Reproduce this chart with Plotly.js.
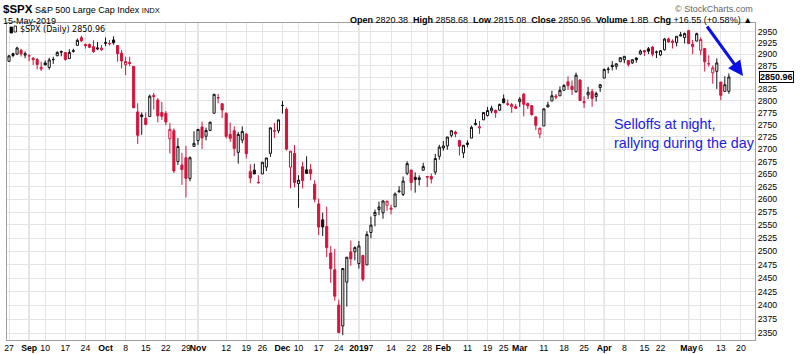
<!DOCTYPE html>
<html><head><meta charset="utf-8">
<script src="https://cdn.plot.ly/plotly-3.0.1.min.js"></script>
<style>body{margin:0;background:#fff}#chart{width:800px;height:354px}</style>
</head><body><div id="chart"></div>
<script>
const dates = [
"2018-08-27","2018-08-28","2018-08-29","2018-08-30","2018-08-31",
"2018-09-04","2018-09-05","2018-09-06","2018-09-07","2018-09-10","2018-09-11","2018-09-12","2018-09-13","2018-09-14","2018-09-17","2018-09-18","2018-09-19","2018-09-20","2018-09-21","2018-09-24","2018-09-25","2018-09-26","2018-09-27","2018-09-28",
"2018-10-01","2018-10-02","2018-10-03","2018-10-04","2018-10-05","2018-10-08","2018-10-09","2018-10-10","2018-10-11","2018-10-12","2018-10-15","2018-10-16","2018-10-17","2018-10-18","2018-10-19","2018-10-22","2018-10-23","2018-10-24","2018-10-25","2018-10-26","2018-10-29","2018-10-30","2018-10-31",
"2018-11-01","2018-11-02","2018-11-05","2018-11-06","2018-11-07","2018-11-08","2018-11-09","2018-11-12","2018-11-13","2018-11-14","2018-11-15","2018-11-16","2018-11-19","2018-11-20","2018-11-21","2018-11-23","2018-11-26","2018-11-27","2018-11-28","2018-11-29","2018-11-30",
"2018-12-03","2018-12-04","2018-12-06","2018-12-07","2018-12-10","2018-12-11","2018-12-12","2018-12-13","2018-12-14","2018-12-17","2018-12-18","2018-12-19","2018-12-20","2018-12-21","2018-12-24","2018-12-26","2018-12-27","2018-12-28","2018-12-31",
"2019-01-02","2019-01-03","2019-01-04","2019-01-07","2019-01-08","2019-01-09","2019-01-10","2019-01-11","2019-01-14","2019-01-15","2019-01-16","2019-01-17","2019-01-18","2019-01-22","2019-01-23","2019-01-24","2019-01-25","2019-01-28","2019-01-29","2019-01-30","2019-01-31",
"2019-02-01","2019-02-04","2019-02-05","2019-02-06","2019-02-07","2019-02-08","2019-02-11","2019-02-12","2019-02-13","2019-02-14","2019-02-15","2019-02-19","2019-02-20","2019-02-21","2019-02-22","2019-02-25","2019-02-26","2019-02-27","2019-02-28",
"2019-03-01","2019-03-04","2019-03-05","2019-03-06","2019-03-07","2019-03-08","2019-03-11","2019-03-12","2019-03-13","2019-03-14","2019-03-15","2019-03-18","2019-03-19","2019-03-20","2019-03-21","2019-03-22","2019-03-25","2019-03-26","2019-03-27","2019-03-28","2019-03-29",
"2019-04-01","2019-04-02","2019-04-03","2019-04-04","2019-04-05","2019-04-08","2019-04-09","2019-04-10","2019-04-11","2019-04-12","2019-04-15","2019-04-16","2019-04-17","2019-04-18","2019-04-22","2019-04-23","2019-04-24","2019-04-25","2019-04-26","2019-04-29","2019-04-30",
"2019-05-01","2019-05-02","2019-05-03","2019-05-06","2019-05-07","2019-05-08","2019-05-09","2019-05-10","2019-05-13","2019-05-14","2019-05-15"
];
const futureDates = ["2019-05-16","2019-05-17","2019-05-20"];

const open = [
2884.69,2901.45,2900.62,2908.94,2898.37,
2896.96,2891.59,2888.64,2868.26,2881.39,2871.57,2888.29,2896.85,2906.38,2903.83,2890.74,2906.60,2919.73,2936.76,2921.83,2921.75,2916.98,2911.65,2910.03,
2926.29,2923.80,2931.69,2919.35,2902.54,2877.53,2882.51,2873.90,2776.87,2770.54,2763.83,2767.05,2811.67,2802.00,2775.66,2773.94,2721.03,2737.87,2674.88,2667.86,2682.65,2640.68,2705.60,
2717.58,2745.45,2726.37,2738.40,2774.13,2806.38,2794.10,2773.93,2730.05,2737.90,2693.52,2718.54,2730.74,2654.60,2657.74,2633.36,2649.97,2663.75,2691.45,2736.97,2737.76,
2790.50,2782.43,2663.51,2691.26,2630.86,2664.44,2658.23,2658.70,2629.68,2590.75,2559.90,2547.05,2496.77,2465.38,2400.56,2363.12,2442.50,2498.77,2498.94,
2476.96,2491.92,2474.33,2535.61,2568.11,2580.00,2573.51,2588.11,2580.31,2585.10,2614.75,2609.28,2651.27,2657.88,2643.48,2638.84,2657.44,2644.97,2644.89,2653.62,2685.49,
2702.32,2706.49,2728.34,2735.05,2717.53,2692.36,2712.40,2722.61,2750.30,2743.50,2760.24,2769.28,2779.05,2780.24,2780.67,2804.35,2792.36,2787.50,2788.11,
2798.22,2814.37,2794.41,2790.27,2766.53,2730.79,2747.61,2787.34,2799.78,2810.38,2810.79,2822.61,2840.76,2831.34,2819.72,2844.52,2796.01,2812.66,2819.72,2809.40,2828.27,
2848.63,2868.24,2876.09,2873.99,2884.16,2888.46,2886.58,2881.37,2891.92,2900.86,2908.32,2912.26,2916.04,2904.81,2898.78,2909.99,2934.00,2928.99,2925.81,2940.58,2937.14,
2952.33,2922.16,2929.21,2908.89,2913.03,2879.61,2859.84,2863.10,2840.19,2820.12,2820.38
];
const high = [
2898.25,2903.77,2916.50,2912.46,2906.32,
2900.18,2894.21,2892.05,2883.81,2886.93,2892.52,2894.65,2906.76,2908.30,2904.65,2911.17,2912.36,2934.80,2940.91,2923.79,2923.95,2931.15,2927.22,2920.53,
2937.06,2931.42,2939.86,2919.78,2909.64,2894.83,2894.83,2874.02,2795.14,2775.77,2775.99,2813.46,2816.94,2806.04,2797.77,2778.94,2753.59,2742.59,2722.70,2692.38,2706.85,2685.43,2736.69,
2741.67,2756.55,2744.27,2756.82,2815.15,2814.75,2794.10,2775.99,2754.60,2746.80,2735.38,2746.75,2733.16,2669.44,2670.73,2647.55,2674.35,2682.53,2744.00,2753.75,2760.88,
2800.18,2785.93,2696.15,2708.54,2647.51,2674.35,2685.44,2670.19,2637.24,2601.13,2573.99,2585.29,2509.63,2504.41,2410.34,2467.76,2489.10,2520.27,2509.24,
2519.49,2493.14,2538.07,2566.16,2579.82,2595.32,2597.82,2596.27,2589.32,2613.08,2625.76,2645.06,2675.47,2657.88,2653.19,2647.20,2672.38,2644.97,2650.93,2690.44,2708.95,
2716.66,2724.99,2738.98,2738.08,2719.32,2708.07,2718.05,2748.19,2761.85,2757.90,2775.66,2787.33,2789.88,2781.58,2794.20,2813.49,2803.12,2795.76,2793.73,
2808.02,2816.88,2796.44,2790.27,2767.25,2744.13,2784.00,2798.32,2821.24,2815.00,2830.73,2835.41,2852.42,2843.54,2860.31,2846.16,2809.79,2829.87,2825.56,2819.71,2836.03,
2869.40,2872.90,2885.25,2881.28,2893.24,2895.95,2886.88,2889.71,2893.42,2910.54,2909.60,2916.06,2918.00,2908.40,2909.51,2936.31,2936.83,2933.10,2939.88,2949.52,2948.22,
2954.13,2931.68,2947.85,2937.32,2913.03,2897.96,2875.97,2891.31,2840.19,2852.54,2858.68
];
const low = [
2884.69,2893.50,2898.40,2895.22,2891.73,
2885.13,2876.92,2867.29,2864.12,2875.94,2866.78,2879.20,2896.39,2895.77,2886.16,2890.43,2903.82,2919.73,2927.11,2912.63,2913.70,2903.28,2909.27,2907.50,
2917.91,2919.37,2921.36,2883.92,2869.29,2855.04,2874.27,2784.86,2710.51,2729.44,2749.03,2766.91,2781.81,2755.18,2760.27,2749.22,2691.43,2651.89,2667.84,2628.16,2603.54,2635.34,2705.60,
2708.85,2700.44,2717.94,2737.08,2774.13,2794.99,2764.24,2722.00,2714.98,2685.75,2670.75,2712.16,2681.09,2631.52,2649.82,2631.09,2649.97,2655.89,2684.38,2722.94,2732.76,
2773.38,2697.18,2621.53,2623.14,2583.23,2621.30,2650.26,2637.27,2593.84,2530.54,2528.71,2488.96,2441.18,2408.55,2351.10,2346.58,2397.94,2472.89,2482.82,
2467.47,2443.96,2474.33,2524.56,2547.56,2568.89,2562.02,2577.40,2570.41,2585.10,2612.68,2606.36,2647.58,2617.27,2612.86,2627.01,2657.33,2624.06,2631.05,2648.34,2678.65,
2696.88,2698.75,2724.03,2724.15,2687.26,2681.83,2703.79,2722.61,2748.63,2731.23,2760.24,2767.29,2774.06,2764.55,2779.11,2794.99,2789.47,2775.13,2782.51,
2787.38,2767.66,2782.97,2768.69,2739.09,2722.27,2747.61,2786.73,2799.78,2803.46,2810.79,2821.99,2823.27,2812.43,2817.38,2800.47,2785.02,2803.99,2787.72,2798.77,2819.23,
2848.63,2858.75,2865.17,2867.14,2882.99,2880.78,2873.33,2879.13,2881.99,2898.37,2896.48,2900.71,2895.45,2891.90,2896.35,2908.53,2926.05,2912.84,2917.56,2939.35,2924.11,
2923.36,2900.50,2929.21,2898.21,2862.60,2873.28,2836.40,2825.39,2801.43,2820.12,2815.08
];
const close = [
2896.74,2897.52,2914.04,2901.13,2901.52,
2896.72,2888.60,2878.05,2871.68,2877.13,2887.89,2888.92,2904.18,2904.98,2888.80,2904.31,2907.95,2930.75,2929.67,2919.37,2915.56,2905.97,2914.00,2913.98,
2924.59,2923.43,2925.51,2901.61,2885.57,2884.43,2880.34,2785.68,2728.37,2767.13,2750.79,2809.92,2809.21,2768.78,2767.78,2755.88,2740.69,2656.10,2705.57,2658.69,2641.25,2682.63,2711.74,
2740.37,2723.06,2738.31,2755.45,2813.89,2806.83,2781.01,2726.22,2722.18,2701.58,2730.20,2736.27,2690.73,2641.89,2649.93,2632.56,2673.45,2682.17,2743.79,2737.80,2760.17,
2790.37,2700.06,2695.95,2633.08,2637.72,2636.78,2651.07,2650.54,2599.95,2545.94,2546.16,2506.96,2467.42,2416.62,2351.10,2467.70,2488.83,2485.74,2506.85,
2510.03,2447.89,2531.94,2549.69,2574.41,2584.96,2596.64,2596.26,2582.61,2610.30,2616.10,2635.96,2670.71,2632.90,2638.70,2642.33,2664.76,2643.85,2640.00,2681.05,2704.10,
2706.53,2724.87,2737.70,2731.61,2706.05,2707.88,2709.80,2744.73,2753.03,2745.73,2775.60,2779.76,2784.70,2774.88,2792.67,2796.11,2793.90,2792.38,2784.49,
2803.69,2792.81,2789.65,2771.45,2748.93,2743.07,2783.30,2791.52,2810.92,2808.48,2822.48,2832.94,2832.57,2824.23,2854.88,2800.71,2798.36,2818.46,2805.37,2815.44,2834.40,
2867.19,2867.24,2873.40,2879.39,2892.74,2895.77,2878.20,2888.21,2888.32,2907.41,2905.58,2907.06,2900.45,2905.03,2907.97,2933.68,2927.25,2926.17,2939.88,2943.03,2945.83,
2923.73,2917.52,2945.64,2932.47,2884.05,2879.42,2870.72,2881.40,2811.87,2834.41,2850.96
];
const prevCloseBefore = 2874.69;   // close of 2018-08-24
const volumeText = "1.8B";

const tickDates = ["2018-08-27","2018-09-04","2018-09-10","2018-09-17","2018-09-24","2018-10-01","2018-10-08","2018-10-15","2018-10-22","2018-10-29","2018-11-01","2018-11-12","2018-11-19","2018-11-26","2018-12-03","2018-12-10","2018-12-17","2018-12-24","2019-01-02","2019-01-07","2019-01-14","2019-01-22","2019-01-28","2019-02-01","2019-02-11","2019-02-19","2019-02-25","2019-03-01","2019-03-11","2019-03-18","2019-03-25","2019-04-01","2019-04-08","2019-04-15","2019-04-22","2019-05-01","2019-05-06","2019-05-13","2019-05-20"];
const tickLabels = ["27","Sep","10","17","24","Oct","8","15","22","29","Nov","12","19","26","Dec","10","17","24","2019","7","14","22","28","Feb","11","19","25","Mar","11","18","25","Apr","8","15","22","May","6","13","20"];
const monthLabels = ["Sep","Oct","Nov","Dec","2019","Feb","Mar","Apr","May"];
const yTicks = [2350,2375,2400,2425,2450,2475,2500,2525,2550,2575,2600,2625,2650,2675,2700,2725,2750,2775,2800,2825,2850,2875,2900,2925,2950];

const RED = "#d2143c", BLACK = "#111111";
const axisDates = dates.concat(futureDates);
const idx = d => axisDates.indexOf(d);

// split candles: black = close >= previous close, red = close < previous close
const groups = {up:{x:[],o:[],h:[],l:[],c:[]}, dn:{x:[],o:[],h:[],l:[],c:[]}};
for (let i = 0; i < dates.length; i++) {
  const pc = i === 0 ? prevCloseBefore : close[i-1];
  const g = close[i] >= pc ? groups.up : groups.dn;
  g.x.push(i); g.o.push(open[i]); g.h.push(high[i]); g.l.push(low[i]); g.c.push(close[i]);
}
function cs(g, col) {
  return {type:"candlestick", x:g.x, open:g.o, high:g.h, low:g.l, close:g.c,
    increasing:{line:{color:col, width:1}, fillcolor:"#ffffff"},
    decreasing:{line:{color:col, width:1}, fillcolor:col},
    whiskerwidth:0, hoverinfo:"skip", showlegend:false};
}
const traces = [cs(groups.up, BLACK), cs(groups.dn, RED)];

// pixel helpers for plot area (l=7, r=755, t=23, b=340)
const PL=7, PR=755, PT=23, PB=340;
const px = p => (p-PL)/(PR-PL);
const py = p => (PB-p)/(PB-PT);

const shapes = [];
tickDates.forEach((d,i)=>{
  if (monthLabels.includes(tickLabels[i])) {
    shapes.push({type:"line", xref:"x", yref:"paper", x0:idx(d), x1:idx(d), y0:0, y1:1, line:{color:"#c4c4c4", width:1}, layer:"below"});
  }
});
// legend icon
shapes.push({type:"rect", xref:"paper", yref:"paper", x0:px(10), x1:px(12.5), y0:py(33), y1:py(27), line:{color:"#000",width:0.8}, fillcolor:"#000"});
shapes.push({type:"rect", xref:"paper", yref:"paper", x0:px(14), x1:px(16.5), y0:py(32), y1:py(26), line:{color:"#000",width:0.8}, fillcolor:"#fff"});

const n = close.length - 1;
const chg = close[n]-close[n-1];
const pct = chg/close[n-1]*100;
const sp = "\u00a0\u00a0";
const hdr = "<b>Open</b> " + open[n].toFixed(2) + sp + "<b>High</b> " + high[n].toFixed(2) + sp +
  "<b>Low</b> " + low[n].toFixed(2) + sp + "<b>Close</b> " + close[n].toFixed(2) + sp +
  "<b>Volume</b> " + volumeText + sp + "<b>Chg</b> +" + chg.toFixed(2) + " (+" + pct.toFixed(2) + "%) \u25B2";

const F = "Liberation Sans, Arial, sans-serif";
const annotations = [
  {xref:"paper", yref:"paper", x:px(1), y:py(9), xanchor:"left", yanchor:"middle", showarrow:false,
   text:"<b><span style='font-size:11.5px'>$SPX</span></b> S&P 500 Large Cap Index <span style='font-size:7.5px'>INDX</span>",
   font:{family:F, size:9, color:"#000"}},
  {xref:"paper", yref:"paper", x:px(1), y:py(20.5), xanchor:"left", yanchor:"middle", showarrow:false,
   text:"15-May-2019", font:{family:F, size:9, color:"#000"}},
  {xref:"paper", yref:"paper", x:px(755), y:py(9), xanchor:"right", yanchor:"middle", showarrow:false,
   text:"\u00a9 StockCharts.com", font:{family:F, size:9, color:"#666"}},
  {xref:"paper", yref:"paper", x:px(754), y:py(19.5), xanchor:"right", yanchor:"middle", showarrow:false,
   text:hdr, font:{family:F, size:9, color:"#000"}},
  {xref:"paper", yref:"paper", x:px(18), y:py(30), xanchor:"left", yanchor:"middle", showarrow:false,
   text:"$SPX (Daily) " + close[n].toFixed(2), font:{family:"DejaVu Sans, Verdana, sans-serif", size:8, color:"#000"}},
  {xref:"paper", yref:"y", x:1, y:Math.log10(close[n]), xanchor:"left", yanchor:"middle", xshift:4, showarrow:false,
   text:"<b>"+close[n].toFixed(2)+"</b>", font:{family:F, size:9, color:"#000"}, bgcolor:"#fff", bordercolor:"#000", borderwidth:1, borderpad:0},
  {xref:"paper", yref:"paper", x:px(612), y:py(133), xanchor:"left", yanchor:"middle", showarrow:false, align:"left",
   text:"Selloffs at night,<br>rallying during the day", font:{family:F, size:14.3, color:"#2020e8"}},
  {xref:"paper", yref:"paper", x:px(743), y:py(76), axref:"pixel", ayref:"pixel", ax:-37, ay:-51, showarrow:true,
   arrowhead:2, arrowsize:1, arrowwidth:3, arrowcolor:"#0a10e6", text:""}
];

const layout = {
  width:800, height:354,
  margin:{l:PL, r:800-PR, t:PT, b:354-PB, pad:0},
  paper_bgcolor:"#fff", plot_bgcolor:"#fff",
  showlegend:false,
  xaxis:{range:[-0.5,185.5], tickmode:"array", tickvals:tickDates.map(idx),
    ticktext:tickLabels.map(t=>monthLabels.includes(t)?"<b>"+t+"</b>":t),
    tickangle:0, ticks:"", showgrid:true, gridcolor:"#e4e4e4", gridwidth:1,
    showline:true, linecolor:"#a0a0a0", linewidth:1, mirror:true, zeroline:false,
    rangeslider:{visible:false}, tickfont:{family:F, size:8.7, color:"#000"}, fixedrange:true},
  yaxis:{type:"log", side:"right", range:[Math.log10(2338.2), Math.log10(2969.4)],
    tickmode:"array", tickvals:yTicks, ticktext:yTicks.map(v => v === 2850 ? "" : String(v)), ticks:"",
    showgrid:true, gridcolor:"#e4e4e4", gridwidth:1, showline:true, linecolor:"#a0a0a0", mirror:true,
    zeroline:false, tickfont:{family:F, size:8.7, color:"#000"}, fixedrange:true},
  shapes:shapes, annotations:annotations, boxgap:0.25
};
Plotly.newPlot("chart", traces, layout, {staticPlot:true, displayModeBar:false});
</script>
</body></html>
